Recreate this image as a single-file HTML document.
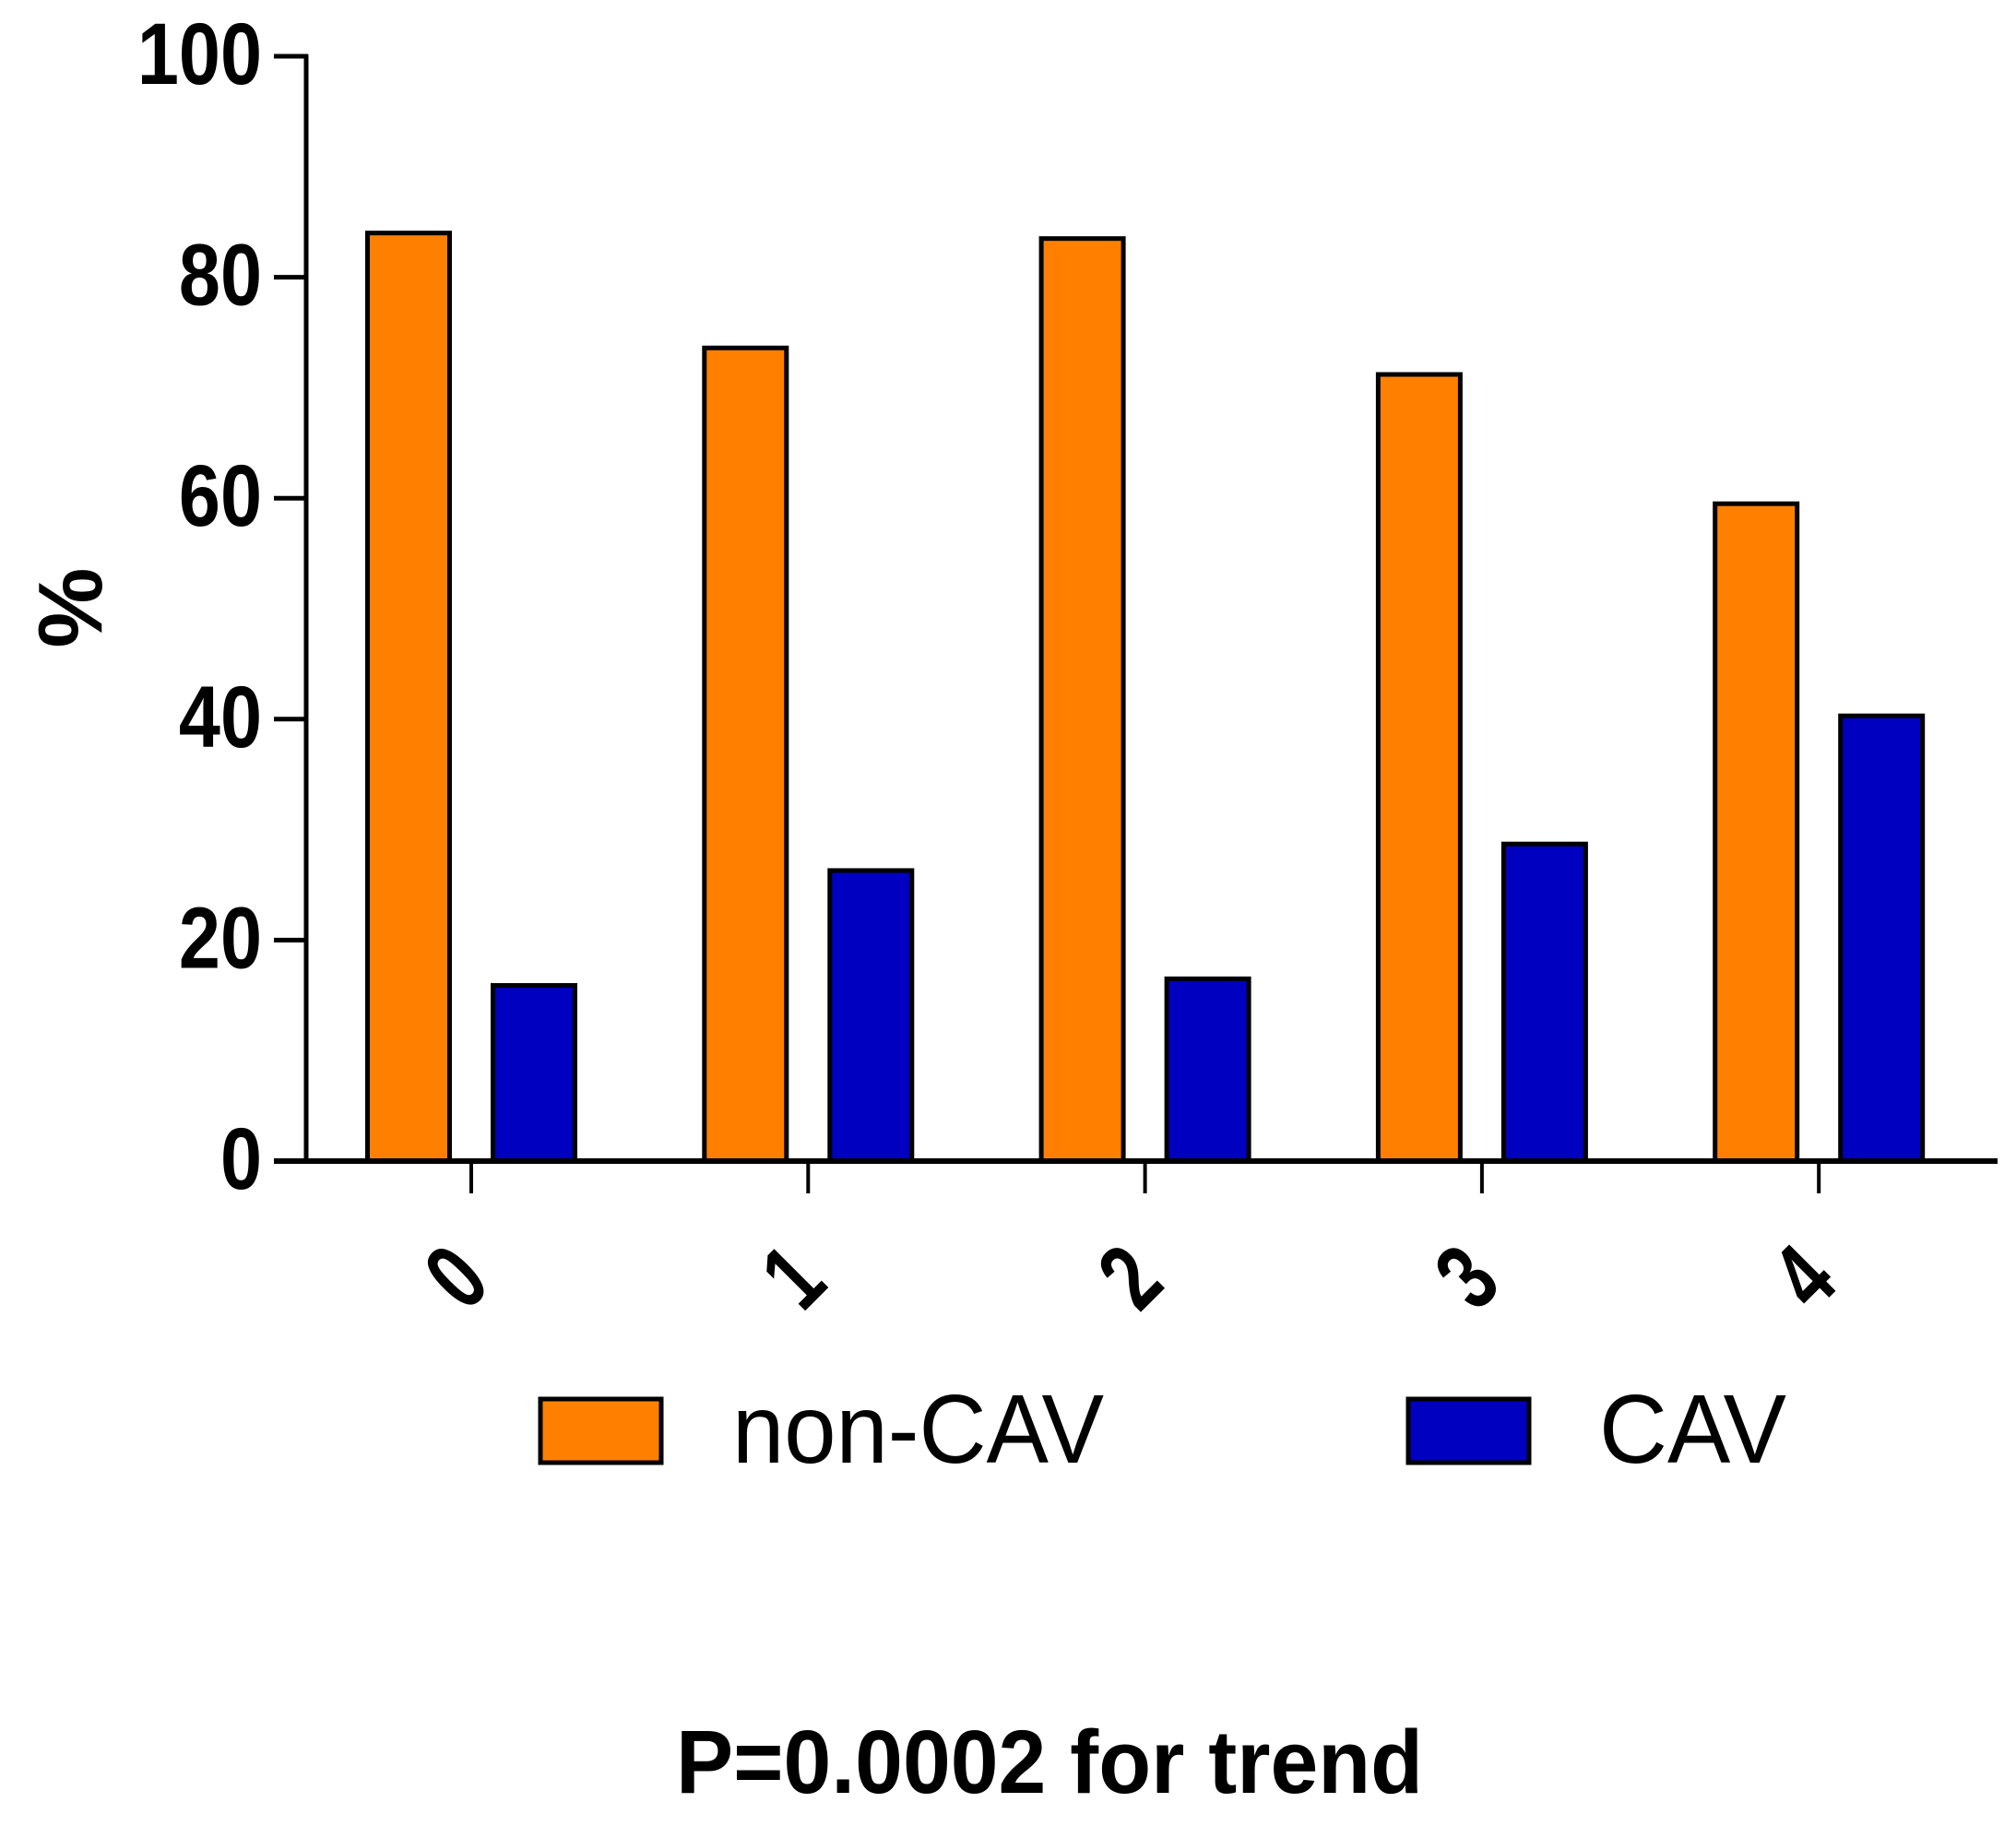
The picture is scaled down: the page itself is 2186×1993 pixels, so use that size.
<!DOCTYPE html>
<html><head><meta charset="utf-8"><style>
html,body{margin:0;padding:0;background:#fff;}
svg{display:block;font-family:"Liberation Sans",Arial,sans-serif;}
</style></head><body>
<svg id="chart" width="2186" height="1993" viewBox="0 0 2186 1993" xmlns="http://www.w3.org/2000/svg">
<g id="bars"></g>
<g id="axes"></g>
<text x="0" y="0" transform="translate(110,659) rotate(-90)" text-anchor="middle" font-weight="bold" font-size="98">%</text>
<g>
<rect x="586" y="1517" width="131" height="69" fill="#FF8000" stroke="#000" stroke-width="5"/>
<text x="794" y="1586" font-size="106" textLength="403" lengthAdjust="spacingAndGlyphs">non-CAV</text>
<rect x="1527" y="1517" width="131" height="69" fill="#0000C0" stroke="#000" stroke-width="5"/>
<text x="1734" y="1586" font-size="106" textLength="203" lengthAdjust="spacingAndGlyphs">CAV</text>
</g>
<text x="733" y="1944" font-weight="bold" font-size="97" textLength="810" lengthAdjust="spacingAndGlyphs">P=0.0002 for trend</text>
</svg>
<script>
const categories = ["0","1","2","3","4"];
const nonCav = [84, 73.6, 83.5, 71.2, 59.5];
const cav = [15.9, 26.3, 16.5, 28.7, 40.3];
const yTicks = [0, 20, 40, 60, 80, 100];

const NS = "http://www.w3.org/2000/svg";
const y0 = 1259, y100 = 61;
function yScale(v){ return y0 - (y0 - y100) * v / 100; }
const xFirst = 511, xStep = 365.3;
function xScale(i){ return xFirst + i * xStep; }
function mk(tag, attrs, parent){
  const e = document.createElementNS(NS, tag);
  for (const k in attrs) e.setAttribute(k, attrs[k]);
  parent.appendChild(e);
  return e;
}
const bars = document.getElementById('bars');
const axes = document.getElementById('axes');
const bw = 89;
categories.forEach((c, i) => {
  const cx = xScale(i);
  const r1 = mk('rect', {x: cx - 68 - bw/2, y: yScale(nonCav[i]), width: bw, height: y0 - yScale(nonCav[i]), fill: '#FF8000', stroke: '#000', 'stroke-width': 5}, bars);
  
  
  const r2 = mk('rect', {x: cx + 68 - bw/2, y: yScale(cav[i]), width: bw, height: y0 - yScale(cav[i]), fill: '#0000C0', stroke: '#000', 'stroke-width': 5}, bars);
  
  
  const t = mk('line', {x1: cx, x2: cx, y1: y0, y2: 1294, stroke: '#000', 'stroke-width': 4}, axes);
  
  
  const lx = cx - 16, ly = 1385;
  const lb = mk('text', {x: 0, y: 0, transform: 'translate(' + lx + ',' + ly + ') rotate(-45) scale(0.85,1.15)', 'text-anchor': 'middle', 'dominant-baseline': 'central', 'font-weight': 'bold', 'font-size': 90}, axes);
  lb.textContent = c;
  
  
});
const ya = mk('line', {x1: 332, x2: 332, y1: y100 - 2, y2: y0, stroke: '#000', 'stroke-width': 5}, axes);


const xa = mk('line', {x1: 297, x2: 2166, y1: y0, y2: y0, stroke: '#000', 'stroke-width': 6}, axes);


yTicks.forEach(v => {
  const y = yScale(v);
  const tk = mk('line', {x1: 297, x2: 334, y1: y, y2: y, stroke: '#000', 'stroke-width': 5}, axes);
  
  
  const tl = mk('text', {x: 0, y: 0, transform: 'translate(284,' + (y + 30) + ') scale(0.9,1.05)', 'text-anchor': 'end', 'font-weight': 'bold', 'font-size': 90}, axes);
  tl.textContent = v;
  
  
});
</script>
</body></html>
